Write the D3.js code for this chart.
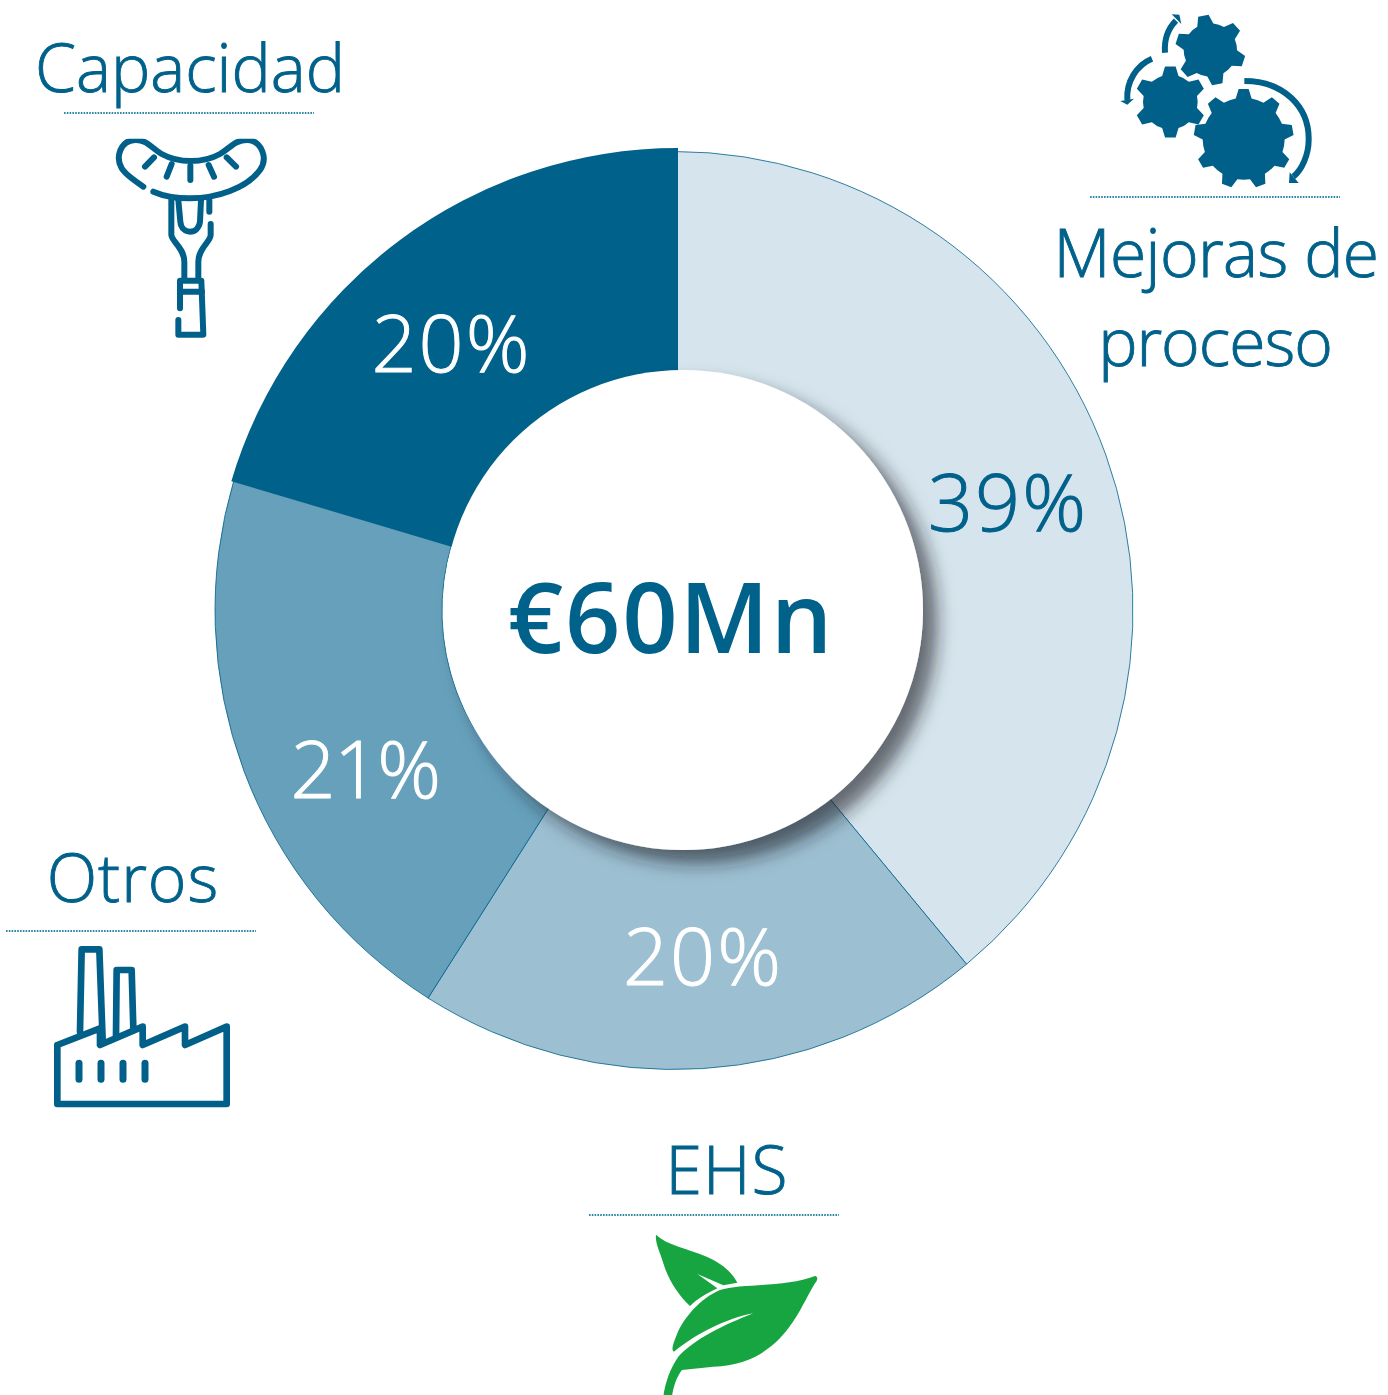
<!DOCTYPE html>
<html><head><meta charset="utf-8">
<script src="https://cdn.jsdelivr.net/npm/d3@7"></script>
<style>html,body{margin:0;padding:0;background:#fff}svg{display:block}text{font-family:"Open Sans",sans-serif}</style>
</head><body><div id="c"></div>
<script>
const categories = ["Mejoras de proceso","EHS","Otros","Capacidad"];
const values = [39,20,20.6,20.4];
const percentLabels = ["39%","20%","21%","20%"];
const centerLabel = "€60Mn";
const sliceColors = ["#d6e5ed","#9cbfd1","#66a0bb","#00618a"];
const labelColors = ["#00618a","#fff","#fff","#fff"];
const BLUE="#00618a", GREEN="#19a53f";
const W=1388,H=1395,cx=674,cy=610.5,R=459,r0=232;

const svg=d3.select("#c").append("svg").attr("width",W).attr("height",H).attr("viewBox",`0 0 ${W} ${H}`);
const defs=svg.append("defs");
const sh=defs.append("filter").attr("id","shadow").attr("x","-20%").attr("y","-20%").attr("width","150%").attr("height","150%");
sh.append("feDropShadow").attr("dx",14).attr("dy",13).attr("stdDeviation",9).attr("flood-color","#1c2226").attr("flood-opacity",0.62);
defs.append("filter").attr("id","soft").append("feGaussianBlur").attr("stdDeviation",0.9);
const clip=defs.append("clipPath").attr("id","sausageClip");
clip.append("rect").attr("x",0).attr("y",416).attr("width",1080).attr("height",700);

const pie=d3.pie().sort(null).value(d=>d)(values);
const arc=d3.arc().innerRadius(r0).outerRadius(R);
const arcBig=d3.arc().innerRadius(r0).outerRadius(466); // the dark slice is drawn larger and shifted
const g=svg.append("g").attr("transform",`translate(${cx},${cy})`);
g.selectAll("path").data(pie).join("path")
 .attr("d",(d,i)=>i===3?arcBig(d):arc(d)).attr("fill",(d,i)=>sliceColors[i])
 .attr("stroke",(d,i)=>i===3?"none":BLUE).attr("stroke-width",0.8)
 .attr("transform",(d,i)=>i===3?"translate(4,3.5)":null);

svg.append("circle").attr("cx",683).attr("cy",610).attr("r",240).attr("fill","#fff").attr("filter","url(#shadow)");

const labelPos=[[1008,531],[703,985],[365,798],[451.5,372]];
const labelSpacing=[2,2,-1.7,2];
svg.selectAll("text.pct").data(percentLabels).join("text").attr("class","pct")
 .attr("x",(d,i)=>labelPos[i][0]).attr("y",(d,i)=>labelPos[i][1])
 .attr("text-anchor","middle").attr("font-size",79).attr("font-weight",300).attr("letter-spacing",(d,i)=>labelSpacing[i])
 .attr("fill",(d,i)=>labelColors[i]).attr("stroke",(d,i)=>labelColors[i]).attr("stroke-width",1).text(d=>d);

svg.append("text").attr("x",671).attr("y",653).attr("text-anchor","middle")
 .attr("font-size",97).attr("font-weight",600).attr("letter-spacing",1.8).attr("fill",BLUE).text(centerLabel);

const catText=[
 {t:"Capacidad",x:190,y:92,ls:0},{t:"Mejoras de",x:1216,y:277,ls:-0.6},{t:"proceso",x:1215,y:366,ls:-1},
 {t:"Otros",x:133,y:902,ls:1},{t:"EHS",x:727,y:1194,ls:1}];
svg.selectAll("text.cat").data(catText).join("text").attr("class","cat")
 .attr("x",d=>d.x).attr("y",d=>d.y).attr("text-anchor","middle").attr("letter-spacing",d=>d.ls)
 .attr("font-size",66).attr("font-weight",300).attr("fill",BLUE).attr("stroke",BLUE).attr("stroke-width",0.9).text(d=>d.t);

const rules=[[64,113],[1090,197],[6,931],[589,1215]];
svg.selectAll("line.rule").data(rules).join("line").attr("class","rule")
 .attr("x1",d=>d[0]).attr("x2",d=>d[0]+250).attr("y1",d=>d[1]).attr("y2",d=>d[1])
 .attr("stroke","#2f86a6").attr("stroke-width",2).attr("stroke-dasharray","1.6 1.2");

// icons, coordinates in 3x crop units
function icon(ox,oy){return svg.append("g").attr("transform",`translate(${ox},${oy}) scale(${1/3})`).attr("filter","url(#soft)");}
const stroked=(G,d,w)=>G.append("path").attr("d",d).attr("fill","none").attr("stroke",BLUE).attr("stroke-width",w).attr("stroke-linecap","round").attr("stroke-linejoin","round");

// sausage on fork
const s=icon(0,0).append("g").attr("clip-path","url(#sausageClip)");
[
"M430,560 C400,540 375,522 365,505 C345,470 362,422 405,420 C440,418 455,445 485,462 C535,490 610,490 660,462 C690,445 705,418 745,420 C785,425 805,475 780,510 C740,565 650,595 570,595 C530,595 490,588 460,575",
"M435,500 L462,472","M500,530 L515,492","M571,540 L571,497","M642,530 L626,495","M708,500 L680,472",
"M514,600 L514,705 C516,725 553,745 553,785 L553,838","M595,838 L595,785 C595,745 632,725 632,705 L632,672","M628,600 L628,635",
"M535,600 L541,665 C545,705 595,705 600,665 L603,600",
"M540,925 L540,842 L604,842 L610,1004 L535,1004 L535,960","M540,875 L606,875"
].forEach(d=>stroked(s,d,18));

// gears: round body with trapezoid teeth
function gearPath(cx0,cy0,body,outer,n,rot,baseHalf,tipHalf){
 const p=(rad,ang)=>[cx0+rad*Math.sin(ang),cy0-rad*Math.cos(ang)].map(v=>v.toFixed(1)).join(",");
 let d="";
 for(let i=0;i<n;i++){
  const a=rot+i*2*Math.PI/n, hb=baseHalf/body, ho=tipHalf/outer;
  d+=(i?"A"+body+","+body+" 0 0 1 ":"M")+p(body,a-hb)+"L"+p(outer,a-ho)+"L"+p(outer,a+ho)+"L"+p(body,a+hb);
 }
 const a0=rot-baseHalf/body;
 return d+"A"+body+","+body+" 0 0 1 "+p(body,a0)+"Z";
}
const m=icon(1040,0);
m.append("path").attr("fill",BLUE).attr("d",gearPath(611,416,123,150,9,0,24,15));
m.append("path").attr("fill",BLUE).attr("d",gearPath(391,306,82,108,6,0,25,16));
m.append("path").attr("fill",BLUE).attr("d",gearPath(511,150,80,106,6,-0.2,25,16));
const headed=[
 ["M375,158 C372,115 385,85 408,62","M395,43 L424,72 L418,44 Z"],
 ["M336,176 C290,195 258,245 262,300","M241,303 L282,296 L262,314 Z"],
 ["M613,243 C730,243 808,320 806,420 C806,465 785,510 760,530","M776,549 L747,549 L749,517 Z"]
];
headed.forEach(h=>{m.append("path").attr("d",h[0]).attr("fill","none").attr("stroke",BLUE).attr("stroke-width",18);
 m.append("path").attr("d",h[1]).attr("fill",BLUE);});

// factory
const f=icon(0,920);
["M172,375 L172,552 L680,552 L680,320 L555,375 L555,320 L428,375 L428,320 L300,375 L300,325 L172,375",
 "M240,335 L245,88 L298,88 L308,360","M348,345 L350,150 L395,150 L400,325"].forEach(d=>stroked(f,d,20));
[237,303,369,435].forEach(x=>stroked(f,`M${x},430 L${x},478`,21));

// leaves
const l=icon(580,1200);
l.append("path").attr("fill",GREEN).attr("d","M228,104 C260,135 320,145 380,170 C425,190 455,215 472,248 L430,256 L352,222 L412,265 C380,280 350,298 330,318 C295,285 265,240 250,190 C240,155 225,130 228,104Z");
l.append("path").attr("fill",GREEN).attr("d","M282,455 C272,450 280,430 290,405 C310,355 360,295 420,270 C480,250 620,262 705,228 C716,230 712,242 705,250 C680,290 660,340 625,385 C575,450 510,495 400,500 L306,510 C290,530 280,560 276,590 L250,590 C255,550 270,505 295,470 C340,420 430,375 520,340 C440,355 350,400 282,455Z");
</script></body></html>
